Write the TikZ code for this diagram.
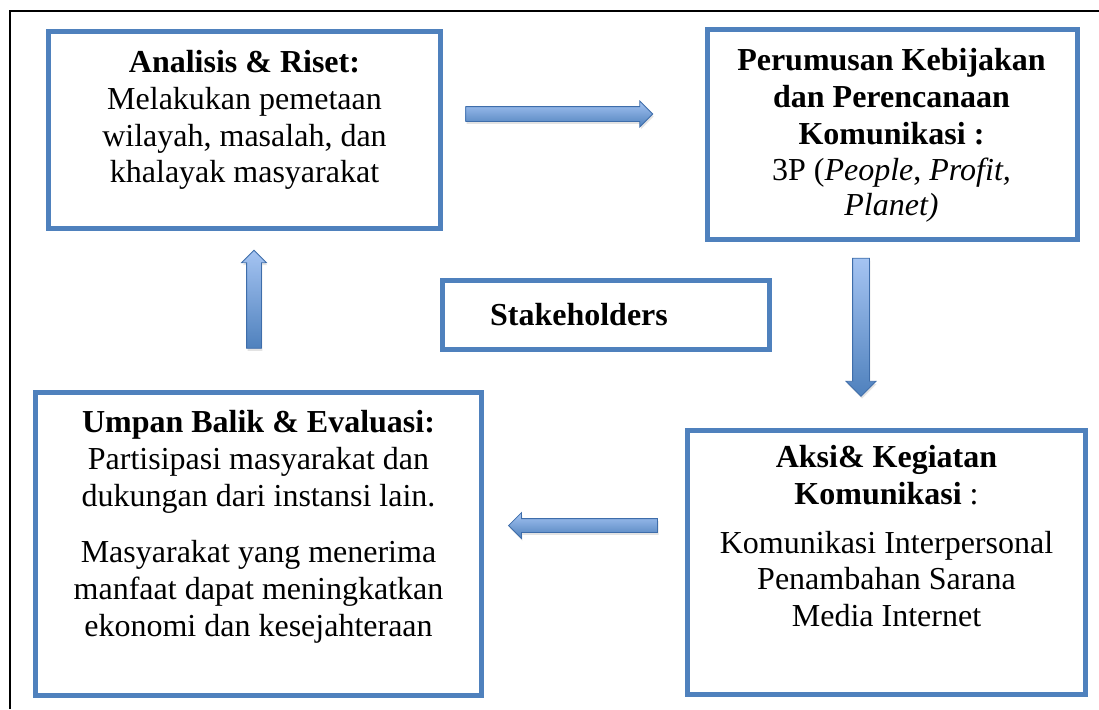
\documentclass[tikz,border=0pt]{standalone}
\usepackage{fontspec}
\setmainfont{Liberation Serif}
\usetikzlibrary{positioning,shapes.arrows,shadows}

\definecolor{boxblue}{HTML}{4F81BD}
\definecolor{arrlight}{HTML}{A5C4F2}
\definecolor{arrdark}{HTML}{4F81BD}
\definecolor{arredge}{HTML}{3E6DAA}

\tikzset{
  box/.style={draw=boxblue, line width=5pt, outer sep=0pt, inner sep=0pt},
  txt/.style={align=center, inner sep=0pt, font=\fontsize{32}{36.8}\selectfont},
  blockarr/.style={single arrow, draw=arredge, line width=0.8pt, inner xsep=0pt,
    minimum width=0pt, top color=arrlight, bottom color=arrdark,
    drop shadow={opacity=0.22, shadow xshift=1pt, shadow yshift=-2.5pt}}
}

\begin{document}
\begin{tikzpicture}[x=1pt,y=-1pt]
  \useasboundingbox (0,0) rectangle (1099,709);
  %frame
  \draw[line width=2pt] (10,709) -- (10,11) -- (1099,11);

  %boxes
  \node[box, minimum width=392pt, minimum height=197pt] (riset) at (244.5,130) {};
  \node[box, minimum width=370pt, minimum height=210pt] (rumus) at (892.5,134.5) {};
  \node[box, line width=4.5pt, minimum width=327pt, minimum height=69pt] (stake) at (606,315) {};
  \node[box, minimum width=398pt, minimum height=264pt] (aksi) at (886.5,562.5) {};
  \node[box, minimum width=446pt, minimum height=303pt] (umpan) at (258.5,544) {};

  %texts
  \node[txt, below=18.5pt of riset.north] (risettxt) {\textbf{Analisis \& Riset:}\\
    Melakukan pemetaan\\ wilayah, masalah, dan\\ khalayak masyarakat};
  \node[txt, below=18.5pt of rumus.north, xshift=-1pt] (rumustxt) {\textbf{Perumusan Kebijakan}\\
    \textbf{dan Perencanaan}\\ \textbf{Komunikasi :}\\
    3P (\textit{People}, \textit{Profit,}\\[-2pt] \textit{Planet)}};
  \node[txt, xshift=-27pt] (staketxt) at (stake.center) {\textbf{Stakeholders}};
  \node[txt, below=14.5pt of aksi.north] (aksitxt) {\textbf{Aksi\& Kegiatan}\\
    \textbf{Komunikasi} :\\[12pt]
    Komunikasi Interpersonal\\ Penambahan Sarana\\ Media Internet};
  \node[txt, below=17.5pt of umpan.north] (umpantxt) {\textbf{Umpan Balik \& Evaluasi:}\\
    Partisipasi masyarakat dan\\ dukungan dari instansi lain.\\[20pt]
    Masyarakat yang menerima\\ manfaat dapat meningkatkan\\ ekonomi dan kesejahteraan};

  %riset>rumus
  \node[blockarr, minimum height=187pt, inner ysep=7pt,
    single arrow head extend=5.5pt] (arrone) at (555.5,114) {};
  %rumus>aksi
  \node[blockarr, rotate=-90, minimum height=138pt, inner ysep=8pt,
    single arrow head extend=6.5pt] (arrtwo) at (861,323) {};
  %aksi>umpan
  \node[blockarr, rotate=180, minimum height=149pt, inner ysep=6.5pt,
    single arrow head extend=6pt] (arrthree) at (586.5,525.5) {};
  %umpan>riset
  \node[blockarr, rotate=90, minimum height=98pt, inner ysep=7pt,
    single arrow head extend=5pt] (arrfour) at (254,303) {};
\end{tikzpicture}
\end{document}
